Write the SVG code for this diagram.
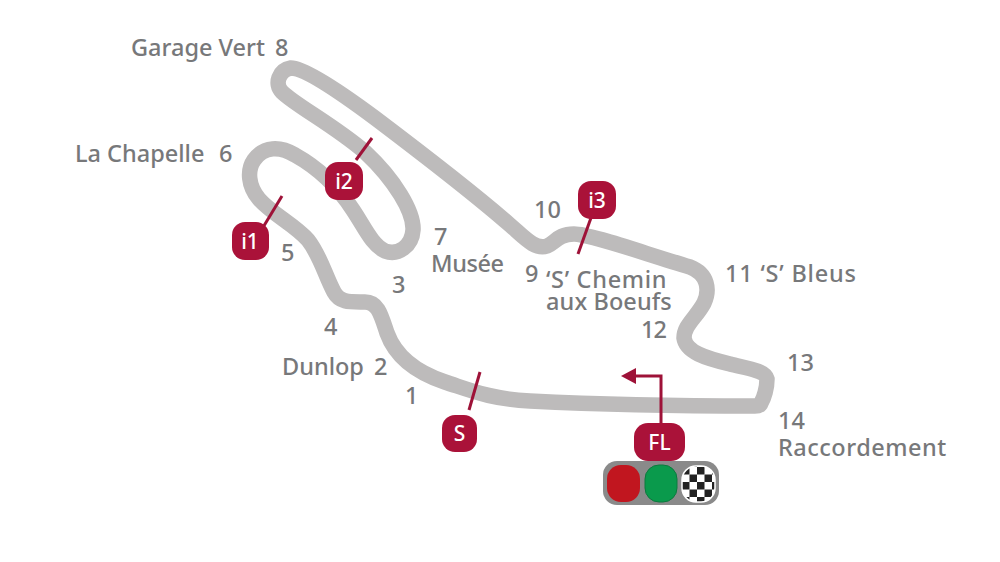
<svg xmlns="http://www.w3.org/2000/svg" width="1000" height="562" viewBox="0 0 1000 562">
<style>
.l{font-family:"Noto Sans","Open Sans",sans-serif;font-size:23.5px;font-weight:500;fill:#77787a}
.b{font-family:"Noto Sans","Open Sans",sans-serif;font-size:21px;font-weight:500;fill:#fff;text-anchor:middle}
.badge{fill:#aa1239}
.lead{fill:none;stroke:#9e1238;stroke-width:3}
</style>
<defs><pattern id="chk" width="15" height="15" patternUnits="userSpaceOnUse" x="682" y="467"><rect width="15" height="15" fill="#fff"/><rect width="7.500" height="7.500" fill="#222"/><rect x="7.500" y="7.500" width="7.500" height="7.500" fill="#222"/></pattern></defs>
<rect width="1000" height="562" fill="#fff"/>
<g id="track"><path d="M755 406 C680 406 590 404 530 401 C490 399 470 390 445 382 C415 372 395 355 387 333 C381 315 378 302 365 302 C350 302 340 303 334 292 C325 275 320 255 308 240 C295 225 272 214 259 199 C248 186 247 170 254 160 C264 146 280 146 295 155 C322 170 340 190 353 210 C365 228 372 245 385 251 C398 256 412 246 413 230 C414 212 395 180 365 152 C335 126 295 105 282 92 C274 84 279 70 291 68 C304 68 340 92 375 118 C420 152 470 190 510 225 C525 238 535 250 547 246 C555 243 558 234 574 234 C590 234 640 252 690 267 C708 274 710 290 704 303 C696 318 684 325 684 338 C686 352 705 358 730 364 C745 368 765 370 767 379 C767 388 764 398 761 403 C760 406 758 406 755 406 Z" fill="none" stroke="#bdbbbb" stroke-width="15.500" stroke-linejoin="round"/></g>
<g id="connectors">
<path class="lead" d="M262 229 L282 196"/>
<path class="lead" d="M356 160 L372 138"/>
<path class="lead" d="M592 215 L578 254"/>
<path class="lead" d="M469 410 L480 372"/>
<path class="lead" d="M661 425 L661 376 L634 376"/>
<path d="M621 376 L636 368 L636 384 Z" fill="#9e1238"/>
</g>
<g id="i1"><rect class="badge" x="232" y="222" width="37" height="38" rx="13"/><text class="b" x="250" y="249">i1</text></g>
<g id="i2"><rect class="badge" x="325" y="162" width="38" height="38" rx="13"/><text class="b" x="344" y="189">i2</text></g>
<g id="i3"><rect class="badge" x="578" y="181" width="38" height="38" rx="13"/><text class="b" x="597" y="208">i3</text></g>
<g id="S"><rect class="badge" x="442" y="415" width="35" height="37" rx="13"/><text class="b" x="459.500" y="441">S</text></g>
<g id="FL"><rect class="badge" x="634" y="423" width="51" height="38" rx="14"/><text class="b" x="659.500" y="450">FL</text></g>
<g id="lights">
<rect x="603" y="461" width="116" height="44" rx="14" fill="#8a8a8a"/>
<rect x="607" y="465" width="33" height="37" rx="14" fill="#c1161f"/>
<rect x="645" y="465" width="32" height="37" rx="14" fill="#0a9a4c" stroke="#0c7a3e" stroke-width="1"/>
<rect x="682" y="466" width="33" height="36" rx="14" fill="url(#chk)" stroke="#fff" stroke-width="1.500"/>
</g>
<g id="labels">
<text class="l" xml:space="preserve"><tspan x="131" y="56">Garage Vert</tspan><tspan x="275" y="56">8</tspan></text>
<text class="l"><tspan x="75" y="162">La Chapelle</tspan><tspan x="219" y="162">6</tspan></text>
<text class="l" x="281" y="261">5</text>
<text class="l" x="392" y="293">3</text>
<text class="l" x="324" y="335">4</text>
<text class="l"><tspan x="282" y="375">Dunlop</tspan><tspan x="374" y="375">2</tspan></text>
<text class="l" x="405" y="404">1</text>
<text class="l"><tspan x="434" y="245">7</tspan><tspan x="431" y="272" letter-spacing="-0.400">Musée</tspan></text>
<text class="l" x="534" y="218" textLength="27">10</text>
<text class="l" x="525" y="282">9</text>
<text class="l"><tspan x="546" y="288" letter-spacing="0.700">‘S’ Chemin</tspan><tspan x="546" y="310" letter-spacing="0.100">aux Boeufs</tspan></text>
<text class="l" x="641" y="338" textLength="26">12</text>
<text class="l" x="725" y="282" textLength="131">11 ‘S’ Bleus</text>
<text class="l" x="787" y="371" textLength="27">13</text>
<text class="l"><tspan x="778" y="429">14</tspan><tspan x="778" y="456" letter-spacing="0.500">Raccordement</tspan></text>
</g>
</svg>
